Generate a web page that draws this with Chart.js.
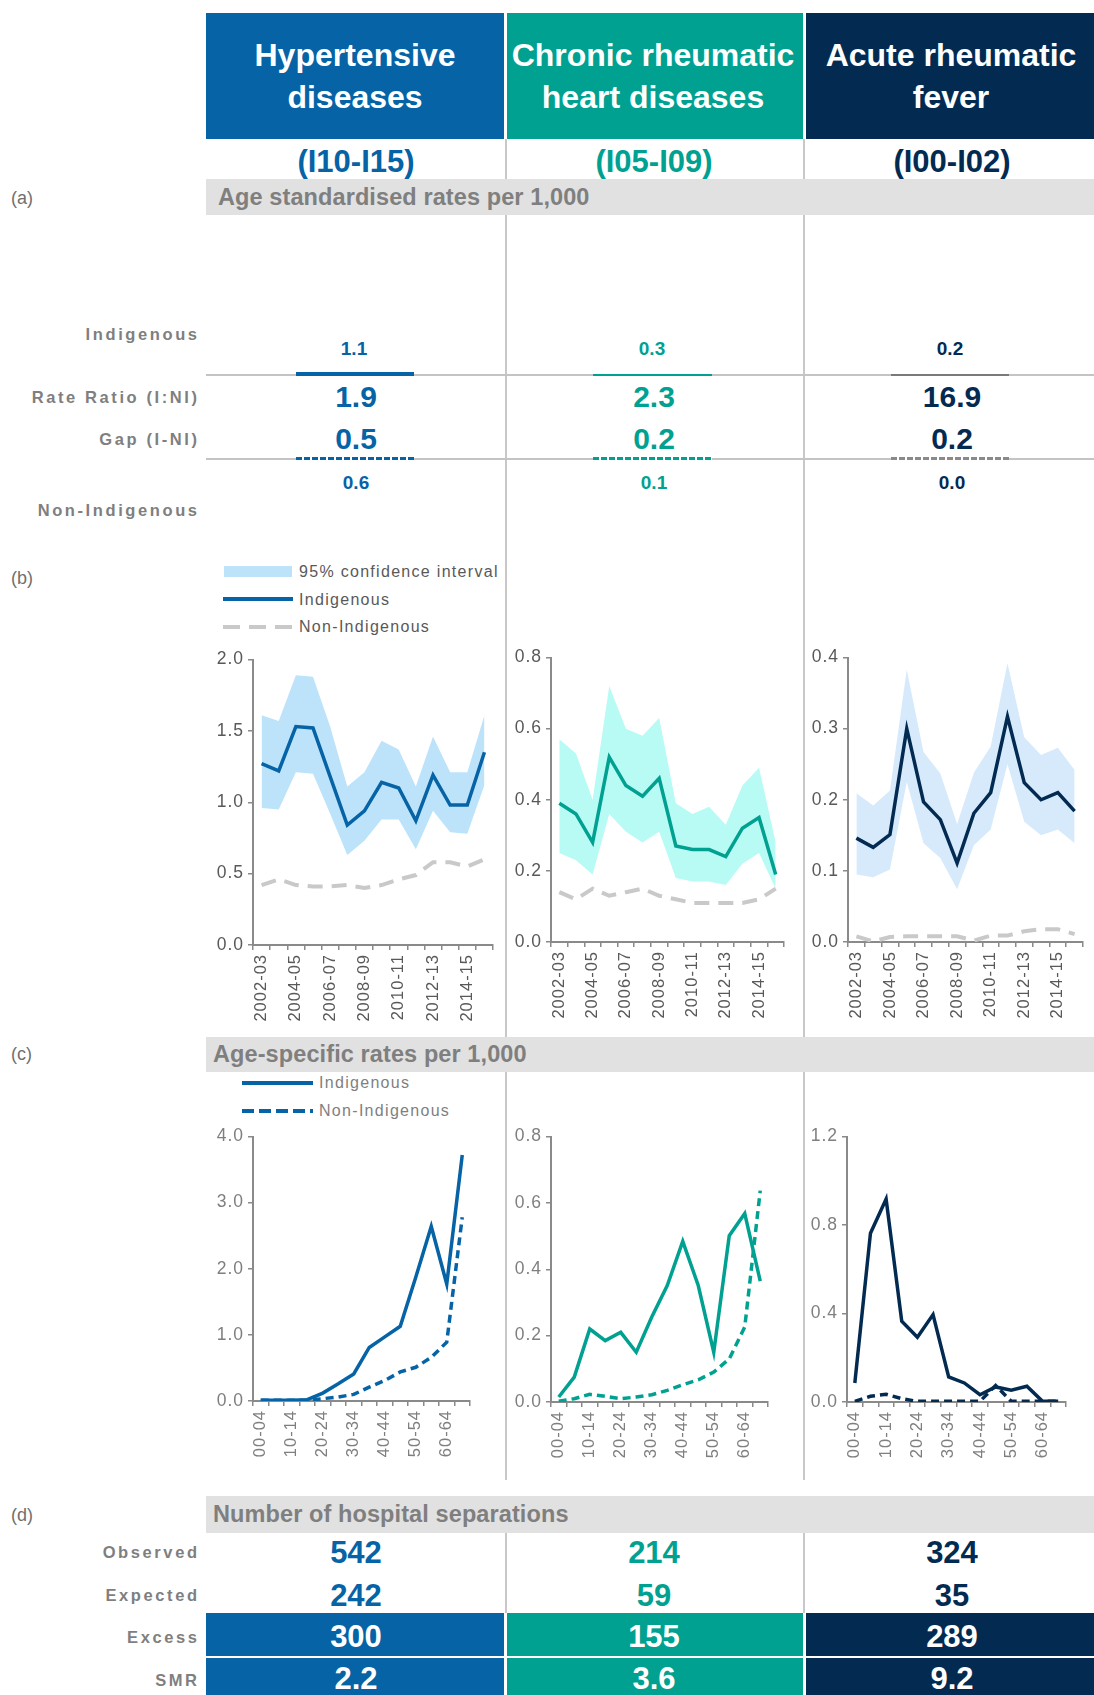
<!DOCTYPE html>
<html><head><meta charset="utf-8">
<script src="https://cdn.jsdelivr.net/npm/chart.js@4.4.1/dist/chart.umd.min.js"></script>
<style>
html,body{margin:0;padding:0;background:#fff;}
body{width:1094px;height:1695px;position:relative;overflow:hidden;font-family:"Liberation Sans",Arial,sans-serif;}
.a{position:absolute;white-space:nowrap;}
</style></head><body>
<script>
// ---------------- DATA ----------------
const headerLines = [["Hypertensive","diseases"],["Chronic rheumatic","heart diseases"],["Acute rheumatic","fever"]];
const icdCodes = ["(I10-I15)","(I05-I09)","(I00-I02)"];
const asrIndigenous = [1.1, 0.3, 0.2];
const asrNonIndigenous = [0.6, 0.1, 0.0];
const rateRatio = [1.9, 2.3, 16.9];
const rateGap = [0.5, 0.2, 0.2];

const yearLabels = ["2002-03","2003-04","2004-05","2005-06","2006-07","2007-08","2008-09","2009-10","2010-11","2011-12","2012-13","2013-14","2014-15","2015-16"];
const ageGroups = ["00-04","05-09","10-14","15-19","20-24","25-29","30-34","35-39","40-44","45-49","50-54","55-59","60-64","65+"];

const trendIndHyp   = [1.27,1.22,1.53,1.52,1.18,0.84,0.94,1.14,1.10,0.87,1.19,0.98,0.98,1.35];
const trendUpperHyp = [1.61,1.57,1.89,1.88,1.53,1.11,1.21,1.43,1.37,1.11,1.46,1.21,1.21,1.61];
const trendLowerHyp = [0.96,0.95,1.21,1.20,0.92,0.63,0.73,0.88,0.88,0.67,0.94,0.79,0.78,1.12];
const trendNonHyp   = [0.42,0.46,0.42,0.41,0.41,0.42,0.40,0.42,0.46,0.49,0.58,0.58,0.55,0.60];

const trendIndCrhd   = [0.39,0.36,0.28,0.52,0.44,0.41,0.46,0.27,0.26,0.26,0.24,0.32,0.35,0.19];
const trendUpperCrhd = [0.57,0.53,0.40,0.72,0.60,0.58,0.63,0.39,0.36,0.38,0.33,0.44,0.49,0.28];
const trendLowerCrhd = [0.25,0.23,0.19,0.36,0.31,0.28,0.31,0.18,0.17,0.17,0.16,0.22,0.25,0.15];
const trendNonCrhd   = [0.14,0.12,0.15,0.13,0.14,0.15,0.13,0.12,0.11,0.11,0.11,0.11,0.12,0.15];

const trendIndArf   = [0.146,0.133,0.151,0.300,0.197,0.172,0.111,0.181,0.210,0.317,0.224,0.200,0.210,0.184];
const trendUpperArf = [0.209,0.192,0.213,0.383,0.267,0.237,0.166,0.238,0.275,0.392,0.288,0.263,0.273,0.242];
const trendLowerArf = [0.095,0.091,0.102,0.225,0.139,0.118,0.074,0.136,0.158,0.250,0.169,0.150,0.158,0.139];
const trendNonArf   = [0.008,0.001,0.007,0.008,0.008,0.008,0.008,0.002,0.009,0.009,0.015,0.018,0.018,0.011];

const ageIndHyp  = [0.01,0.01,0.01,0.02,0.12,0.26,0.41,0.81,0.97,1.13,1.87,2.64,1.77,3.72];
const ageNonHyp  = [0.01,0.01,0.01,0.01,0.035,0.06,0.10,0.21,0.31,0.44,0.51,0.66,0.89,2.78];
const ageIndCrhd = [0.015,0.075,0.22,0.185,0.21,0.15,0.256,0.351,0.484,0.351,0.15,0.501,0.568,0.364];
const ageNonCrhd = [0.002,0.01,0.023,0.017,0.01,0.015,0.022,0.035,0.052,0.067,0.09,0.13,0.226,0.637];
const ageIndArf  = [0.086,0.763,0.917,0.365,0.293,0.395,0.113,0.086,0.033,0.068,0.053,0.071,0.003,0.003];
const ageNonArf  = [0.003,0.026,0.035,0.015,0.003,0.003,0.003,0.003,0.003,0.075,0.003,0.003,0.003,0.003];

const observed = [542, 214, 324];
const expected = [242, 59, 35];
const excess = [300, 155, 289];
const smr = [2.2, 3.6, 9.2];

// ---------------- STYLE ----------------
const FONT = '"Liberation Sans", Arial, sans-serif';
const colColors = ["#0563a6","#00a190","#032b52"];
const ciColors = ["#bde3fb","#b8fbf5","#d6eafc"];
const indBarColors = ["#0563a6","#00a190","#7a7a7a"];
const nonBarColors = ["#0563a6","#00a190","#8a8a8a"];
const cols = [{l:206,r:504},{l:507,r:803},{l:806,r:1094}];
const centers = [356, 654, 952];
const GREYTXT = "#7f7f7f";

function box(l,t,w,h,bg,z){const d=document.createElement('div');d.className='a';d.style.cssText+=`left:${l}px;top:${t}px;width:${w}px;height:${h}px;background:${bg};z-index:${z||1};`;document.body.appendChild(d);return d;}
function text(s,x,cy,align,size,color,weight,ls,z){
  const d=document.createElement('div');d.className='a';d.textContent=s;
  const lh=Math.round(size*1.25);
  let left=x,w=600;
  if(align==='center'){left=x-300;} else if(align==='right'){left=x-600+(ls||0);}
  d.style.cssText+=`left:${left}px;top:${cy-lh/2}px;width:${w}px;height:${lh}px;line-height:${lh}px;font-size:${size}px;color:${color};font-weight:${weight||'normal'};text-align:${align};letter-spacing:${ls||0}px;z-index:${z||5};`;
  document.body.appendChild(d);return d;
}

// separators
box(504.5,139,2,1341,'#c8c8c8',1);
box(803,139,2,1341,'#c8c8c8',1);
box(504.5,1533,2,80,'#c8c8c8',1);
box(803,1533,2,80,'#c8c8c8',1);

// headers
for(let i=0;i<3;i++){
  box(cols[i].l,13,cols[i].r-cols[i].l,126,colColors[i],3);
  text(headerLines[i][0],centers[i]-1,55,'center',32,'#fff','bold',0,6);
  text(headerLines[i][1],centers[i]-1,97,'center',32,'#fff','bold',0,6);
  text(icdCodes[i],centers[i],161,'center',31,colColors[i],'bold',0,6);
}

// section bands
function band(top,h,label,labelY,title,titleX){
  box(206,top,888,h,'#e1e1e1',3);
  text(label,11,labelY,'left',18,'#6f6f6f','normal',0,6);
  text(title,titleX,top+h/2,'left',23.5,GREYTXT,'bold',0.1,6);
}
band(179,36,'(a)',198,'Age standardised rates per 1,000',218);
text('(b)',11,578,'left',18,'#6f6f6f','normal',0,6);
band(1037,35,'(c)',1054,'Age-specific rates per 1,000',213);
band(1496,37,'(d)',1515,'Number of hospital separations',213);

// section (a)
const rowLbl = (s,cy)=>text(s,197,cy,'right',16.5,GREYTXT,'bold',2.6,6);
rowLbl('Indigenous',334);
rowLbl('Rate Ratio (I:NI)',397);
rowLbl('Gap (I-NI)',439);
rowLbl('Non-Indigenous',510);
box(206,374,888,2,'#c4c4c4',2);
box(206,458,888,2,'#c4c4c4',2);
const barX=[[296,414],[593,712],[891,1009]];
for(let i=0;i<3;i++){
  text(asrIndigenous[i].toFixed(1),centers[i]-2,349,'center',19,colColors[i],'bold',0,6);
  const th = i===0?4:2.5;
  box(barX[i][0],376-th,barX[i][1]-barX[i][0],th,indBarColors[i],4);
  text(rateRatio[i].toFixed(1),centers[i],397,'center',30,colColors[i],'bold',0,6);
  text(rateGap[i].toFixed(1),centers[i],439,'center',30,colColors[i],'bold',0,6);
  box(barX[i][0],456.5,barX[i][1]-barX[i][0],3.5,`repeating-linear-gradient(90deg, ${nonBarColors[i]} 0 6px, #ffffff 6px 8px)`,4);
  text(asrNonIndigenous[i].toFixed(1),centers[i],483,'center',19,colColors[i],'bold',0,6);
}

// legend (b)
box(224,566,68,11,ciColors[0],4);
box(223,597,70,4,colColors[0],4);
box(223,625,70,4,'repeating-linear-gradient(90deg,#c9c9c9 0 17px,transparent 17px 26px)',4);
text('95% confidence interval',299,572,'left',16,'#595959','normal',1.3,6);
text('Indigenous',299,600,'left',16,'#595959','normal',1.3,6);
text('Non-Indigenous',299,627,'left',16,'#595959','normal',1.3,6);

// legend (c)
box(242,1081,71,4,colColors[0],4);
box(242,1109,71,4,`repeating-linear-gradient(90deg,${colColors[0]} 0 12px,transparent 12px 17px)`,4);
text('Indigenous',319,1083,'left',16,GREYTXT,'normal',1.3,6);
text('Non-Indigenous',319,1111,'left',16,GREYTXT,'normal',1.3,6);

// section (d)
rowLbl('Observed',1552);
rowLbl('Expected',1595);
rowLbl('Excess',1637);
rowLbl('SMR',1680);
for(let i=0;i<3;i++){
  text(String(observed[i]),centers[i],1552,'center',31,colColors[i],'bold',0,6);
  text(String(expected[i]),centers[i],1595,'center',31,colColors[i],'bold',0,6);
  box(cols[i].l,1613,cols[i].r-cols[i].l,43,colColors[i],3);
  box(cols[i].l,1658,cols[i].r-cols[i].l,37,colColors[i],3);
  text(String(excess[i]),centers[i],1636,'center',31,'#fff','bold',0,6);
  text(smr[i].toFixed(1),centers[i],1678,'center',31,'#fff','bold',0,6);
}

// ---------------- CHARTS ----------------
const lsPlugin = {id:'ls', beforeDraw(chart){ chart.ctx.letterSpacing='1px'; }};

function makeChart(b, labels, datasets, yMax, yStep, tickColor, xh){
  const yw=50, pt=14, pr=24;
  const div=document.createElement('div');div.className='a';
  div.style.cssText+=`left:${b.L-yw}px;top:${b.T-pt}px;width:${b.R-b.L+yw+pr}px;height:${b.B-b.T+pt+xh}px;z-index:5;`;
  const c=document.createElement('canvas');div.appendChild(c);document.body.appendChild(div);
  const axisCol='#8a8a8a';
  new Chart(c,{
    type:'line',
    data:{labels:labels,datasets:datasets},
    plugins:[lsPlugin],
    options:{
      responsive:true,maintainAspectRatio:false,animation:false,devicePixelRatio:1,
      layout:{padding:{top:pt,right:pr,left:0,bottom:0}},
      plugins:{legend:{display:false},tooltip:{enabled:false}},
      elements:{point:{radius:0},line:{tension:0}},
      scales:{
        x:{type:'category',offset:true,
          grid:{display:true,drawOnChartArea:false,drawTicks:true,tickLength:5,color:axisCol,offset:true,lineWidth:1.5},
          border:{display:true,color:axisCol,width:2},
          ticks:{autoSkip:false,maxRotation:90,minRotation:90,padding:4,color:tickColor,font:{size:16.5,family:FONT},
            callback:(v,i)=> i%2===0 ? labels[i] : ''},
          afterFit:s=>{s.height=xh;}
        },
        y:{min:0,max:yMax,
          grid:{display:true,drawOnChartArea:false,drawTicks:true,tickLength:5,color:axisCol,lineWidth:1.5},
          border:{display:true,color:axisCol,width:2},
          ticks:{stepSize:yStep,padding:4,color:tickColor,font:{size:17.5,family:FONT},callback:v=>Number(v).toFixed(1)},
          afterFit:s=>{s.width=yw;}
        }
      }
    }
  });
}

function trendSets(i, lower, upper, non, ind){
  return [
    {data:lower,borderWidth:0,borderColor:'rgba(0,0,0,0)',fill:false,order:3},
    {data:upper,borderWidth:0,borderColor:'rgba(0,0,0,0)',backgroundColor:ciColors[i],fill:'-1',order:3},
    {data:non,borderColor:'#c9c9c9',borderWidth:4,borderDash:[15,9],fill:false,order:2},
    {data:ind,borderColor:colColors[i],borderWidth:3.5,fill:false,order:1}
  ];
}
function ageSets(i, ind, non){
  return [
    {data:non,borderColor:colColors[i],borderWidth:3.5,borderDash:[8,5],fill:false,order:2},
    {data:ind,borderColor:colColors[i],borderWidth:3.5,fill:false,order:1}
  ];
}

makeChart({L:253,T:659,R:493,B:945}, yearLabels, trendSets(0,trendLowerHyp,trendUpperHyp,trendNonHyp,trendIndHyp), 2.0, 0.5, '#595959', 90);
makeChart({L:551,T:657,R:784,B:942}, yearLabels, trendSets(1,trendLowerCrhd,trendUpperCrhd,trendNonCrhd,trendIndCrhd), 0.8, 0.2, '#595959', 90);
makeChart({L:848,T:657,R:1083,B:942}, yearLabels, trendSets(2,trendLowerArf,trendUpperArf,trendNonArf,trendIndArf), 0.4, 0.1, '#595959', 90);

makeChart({L:253,T:1136,R:470,B:1401}, ageGroups, ageSets(0,ageIndHyp,ageNonHyp), 4.0, 1.0, GREYTXT, 70);
makeChart({L:551,T:1136,R:768,B:1402}, ageGroups, ageSets(1,ageIndCrhd,ageNonCrhd), 0.8, 0.2, GREYTXT, 70);
makeChart({L:847,T:1136,R:1066,B:1402}, ageGroups, ageSets(2,ageIndArf,ageNonArf), 1.2, 0.4, GREYTXT, 70);
</script>
</body></html>
